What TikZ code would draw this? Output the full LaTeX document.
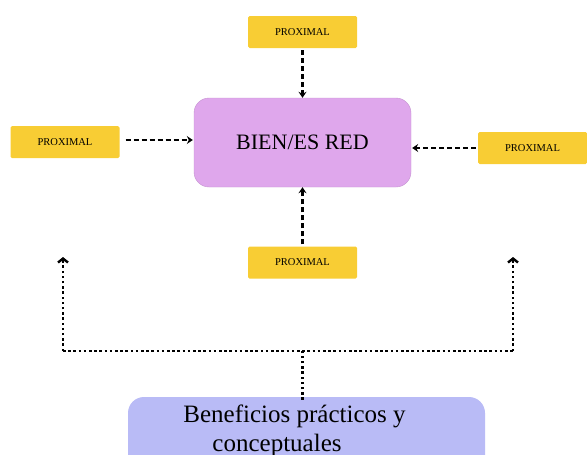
\documentclass[tikz,border=0pt]{standalone}
\usepackage{fontspec}
\setmainfont{Liberation Serif}
\usetikzlibrary{arrows.meta}
\definecolor{prox}{HTML}{F8CD34}
\definecolor{bien}{HTML}{DFA7EC}
\definecolor{bene}{HTML}{B9BBF6}
\tikzset{
  proxbox/.style={fill=prox, rounded corners=1.5pt, minimum width=109pt, minimum height=32pt, inner sep=0pt, font=\fontsize{10.5}{12}\selectfont},
  dasharrow/.style={line width=2.4pt, dash pattern=on 5pt off 3pt, -{Stealth[length=6pt,width=8pt]}},
  dotarrow/.style={line width=2.8pt, dash pattern=on 2.5pt off 2.7pt, -{Straight Barb[length=4pt,width=10pt,line width=2.4pt]}},
  dotline/.style={line width=2.8pt, dash pattern=on 2.5pt off 2.7pt}
}
\begin{document}
\begin{tikzpicture}[x=1pt,y=-1pt]
\useasboundingbox (0,0) rectangle (587,455);
\clip (0,0) rectangle (587,455);
\node[proxbox] (top) at (302.5,32) {PROXIMAL};
\node[proxbox] (left) at (65,142) {PROXIMAL};
\node[proxbox] (right) at (532.5,148) {PROXIMAL};
\node[proxbox] (bot) at (302.5,262.5) {PROXIMAL};
\node[fill=bien, draw=bien!80!black!60!bien, rounded corners=15pt, minimum width=217pt, minimum height=89pt, inner sep=0pt, font=\fontsize{22}{24}\selectfont] (bienes) at (302.5,142.5) {BIEN/ES RED};
\node[fill=bene, rounded corners=16pt, minimum width=357pt, minimum height=80pt, inner sep=0pt] (ben) at (306.5,437) {};
\node[anchor=base, inner sep=0pt, font=\fontsize{25}{28}\selectfont] (l1) at (294.5,422) {Beneficios prácticos y};
\node[anchor=base, inner sep=0pt, font=\fontsize{25}{28}\selectfont] (l2) at (277,451) {conceptuales};
\draw[dasharrow] ([yshift=-2pt]top.south) -- (bienes.north -| top.south);
\draw[dasharrow] ([xshift=6pt]left.east |- 0,140) -- ([xshift=-1pt]bienes.west |- 0,140);
\draw[dasharrow] ([xshift=-2pt]right.west) -- ([xshift=1pt]bienes.east |- right.west);
\draw[dasharrow] ([yshift=2pt]bot.north) -- (bienes.south -| bot.north);
\coordinate (j) at (302.5,351);
\coordinate (jl) at (63,351);
\coordinate (jr) at (513,351);
\coordinate (al) at (63,257);
\coordinate (ar) at (513,257);
\draw[dotline] ([yshift=-3pt]ben.north -| j) -- (j);
\draw[dotline] (jl) -- (jr);
\draw[dotarrow] (jl) -- (al);
\draw[dotarrow] (jr) -- (ar);
\end{tikzpicture}
\end{document}
